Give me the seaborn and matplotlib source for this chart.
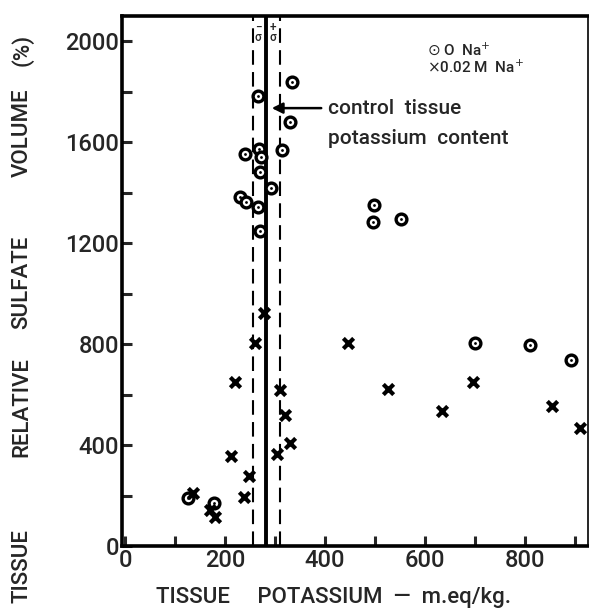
import numpy as np
import pandas as pd
import matplotlib
matplotlib.use("Agg")
import matplotlib.pyplot as plt
import seaborn as sns
from matplotlib.ticker import MultipleLocator

# tissue potassium (m.eq/kg) vs relative sulfate volume (%)
k_no_na = [333, 265, 329, 267, 313, 239, 271, 270, 292, 230, 241, 265, 270,
           497, 495, 551, 700, 809, 892, 125, 177]
v_no_na = [1839, 1783, 1680, 1575, 1571, 1555, 1542, 1482, 1417, 1383, 1364, 1344, 1248,
           1350, 1282, 1294, 805, 796, 737, 189, 172]
k_na = [278, 260, 219, 309, 319, 330, 212, 303, 247, 238, 135, 169, 180,
        445, 525, 633, 695, 853, 910]
v_na = [922, 803, 651, 618, 519, 407, 358, 364, 277, 193, 209, 143, 116,
        803, 622, 535, 651, 554, 466]

control_k = 282
sigma_lo, sigma_hi = 255, 310

x_ticks = [0, 200, 400, 600, 800]
y_ticks = [0, 400, 800, 1200, 1600, 2000]

ylabel_words = ["TISSUE", "RELATIVE", "SULFATE", "VOLUME", "(%)"]
ylabel_pos = [566, 407, 282, 133, 50]   # pixel rows of word centres

df = pd.concat([
    pd.DataFrame({"K": k_no_na, "V": v_no_na, "grp": "0 Na+"}),
    pd.DataFrame({"K": k_na, "V": v_na, "grp": "0.02 M Na+"}),
])

sns.set_style("ticks")
plt.rcParams["font.family"] = ["Roboto", "DejaVu Sans"]
plt.rcParams["font.weight"] = "medium"
W = "medium"

fig = plt.figure(figsize=(5.89, 6.12), dpi=100)
ax = fig.add_axes([122 / 589, 1 - 546 / 612, (588 - 122) / 589, (546 - 16) / 612])

circ = df[df.grp == "0 Na+"]
crs = df[df.grp == "0.02 M Na+"]
sns.scatterplot(data=circ, x="K", y="V", ax=ax, marker="o", s=60,
                facecolor="white", edgecolor="black", linewidth=2.4, zorder=4)
sns.scatterplot(data=circ, x="K", y="V", ax=ax, marker="o", s=4,
                color="black", edgecolor="black", linewidth=0, zorder=5)
sns.scatterplot(data=crs, x="K", y="V", ax=ax, marker="x", s=55,
                color="black", linewidth=3.0, zorder=4)

ax.axvline(control_k, color="black", lw=2.8, zorder=2)
for xv in (sigma_lo, sigma_hi):
    ax.axvline(xv, color="black", lw=1.5, ls=(0, (7, 3.5)), zorder=2)

# sigma marks at top
ax.text((sigma_lo + control_k) / 2 - 2, 2035, "−\nσ", ha="center", va="center",
        fontsize=8.5, linespacing=0.75)
ax.text((sigma_hi + control_k) / 2, 2035, "+\nσ", ha="center", va="center",
        fontsize=8.5, linespacing=0.75)
ax.annotate("", xy=(sigma_lo, 1960), xytext=(control_k, 1960),
            arrowprops=dict(arrowstyle="<->", lw=1.0, mutation_scale=6))
ax.annotate("", xy=(sigma_hi, 1960), xytext=(control_k, 1960),
            arrowprops=dict(arrowstyle="<->", lw=1.0, mutation_scale=6))

ax.annotate("", xy=(288, 1735), xytext=(398, 1735),
            arrowprops=dict(arrowstyle="-|>", lw=1.8, color="black", mutation_scale=16))
ax.text(405, 1735, "control  tissue", fontsize=15, va="center", ha="left", fontweight=W)
ax.text(405, 1615, "potassium  content", fontsize=15, va="center", ha="left", fontweight=W)

ax.text(604, 1966, r"$\odot$ O  Na$^{+}$", fontsize=11, va="center", ha="left", fontweight=W)
ax.text(604, 1897, r"$\times$0.02 M  Na$^{+}$", fontsize=11, va="center", ha="left", fontweight=W)

ax.set_xlim(-6, 926)
ax.set_ylim(0, 2100)
ax.set_xticks(x_ticks)
ax.set_yticks(y_ticks)
ax.xaxis.set_minor_locator(MultipleLocator(100))
ax.yaxis.set_minor_locator(MultipleLocator(200))
ax.tick_params(which="both", direction="in", length=7, width=2.2,
               labelsize=17, pad=2)
ax.tick_params(axis="x", which="both", pad=2)
for lbl in ax.get_xticklabels() + ax.get_yticklabels():
    lbl.set_fontweight(W)
ax.set_xlabel("")
ax.set_ylabel("")
for sp in ax.spines.values():
    sp.set_linewidth(2.6)
    sp.set_color("black")
ax.spines["right"].set_linewidth(1.2)

fig.text(0.567, 1 - 597 / 612, "TISSUE     POTASSIUM  —  m.eq/kg.", fontsize=16,
         ha="center", va="center", fontweight=W)
for word, yp in zip(ylabel_words, ylabel_pos):
    fig.text(22 / 589, 1 - yp / 612, word, fontsize=16, rotation=90,
             ha="center", va="center", fontweight=W)

fig.savefig("out.png", dpi=100)
